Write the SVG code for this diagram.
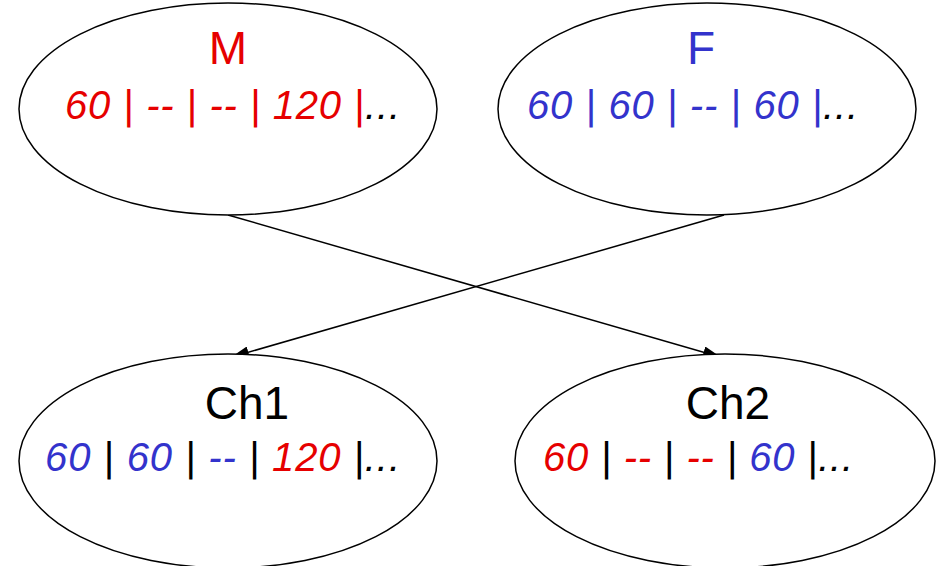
<svg xmlns="http://www.w3.org/2000/svg" width="937" height="566" viewBox="0 0 937 566">
<style>
.node{fill:#fff;stroke:#000;stroke-width:1.5}
.t{font-family:"Liberation Sans",Arial,sans-serif;font-size:46px;text-anchor:middle}
.s{font-family:"Liberation Sans",Arial,sans-serif;font-size:40px;font-style:italic}
.r{fill:#e60000}.b{fill:#3333cc}.k{fill:#000}
.edge{stroke:#000;stroke-width:1.5;fill:none}
</style>
<defs>
<marker id="ah" markerWidth="18" markerHeight="12" refX="17" refY="6" orient="auto" markerUnits="userSpaceOnUse">
<path d="M0,0 L18,6 L0,12 z" fill="#000"/>
</marker>
</defs>
<g id="connectors">
<line class="edge" x1="228" y1="215" x2="720" y2="357" marker-end="url(#ah)"/>
<line class="edge" x1="724" y1="215" x2="232" y2="357" marker-end="url(#ah)"/>
</g>
<g id="M">
<ellipse class="node" cx="228" cy="109" rx="209" ry="106"/>
<text class="t r" x="228" y="64">M</text>
<text class="s" x="65" y="119" textLength="335" lengthAdjust="spacing"><tspan class="r">60 | -- | -- | 120 |</tspan><tspan class="k">...</tspan></text>
</g>
<g id="F">
<ellipse class="node" cx="707" cy="109" rx="209" ry="106"/>
<text class="t b" x="701" y="64">F</text>
<text class="s" x="527" y="119" textLength="331" lengthAdjust="spacing"><tspan class="b">60 | 60 | -- | 60 |</tspan><tspan class="k">...</tspan></text>
</g>
<g id="Ch1">
<ellipse class="node" cx="228" cy="461" rx="209" ry="107"/>
<text class="t k" x="247" y="419">Ch1</text>
<text class="s" x="45" y="471" textLength="355" lengthAdjust="spacing"><tspan class="b">60</tspan><tspan class="k"> | </tspan><tspan class="b">60</tspan><tspan class="k"> | </tspan><tspan class="b">--</tspan><tspan class="k"> | </tspan><tspan class="r">120</tspan><tspan class="k"> |...</tspan></text>
</g>
<g id="Ch2">
<ellipse class="node" cx="725" cy="461" rx="210" ry="107"/>
<text class="t k" x="728" y="419">Ch2</text>
<text class="s" x="543" y="471" textLength="310" lengthAdjust="spacing"><tspan class="r">60</tspan><tspan class="k"> | </tspan><tspan class="r">--</tspan><tspan class="k"> | </tspan><tspan class="r">--</tspan><tspan class="k"> | </tspan><tspan class="b">60</tspan><tspan class="k"> |...</tspan></text>
</g>
</svg>
